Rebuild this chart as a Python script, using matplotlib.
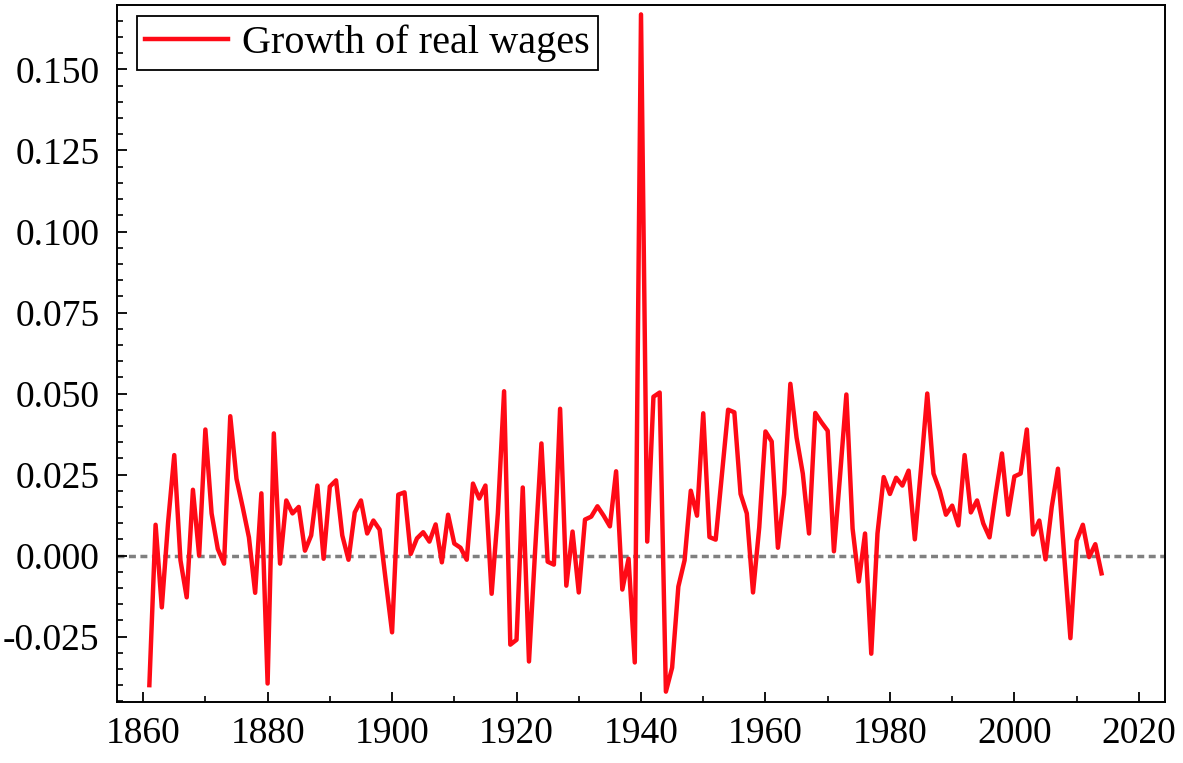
import numpy as np
import matplotlib
matplotlib.use("Agg")
import matplotlib.pyplot as plt
import matplotlib.ticker as mticker

# Annual growth of real wages, 1861-2014
years = list(range(1861, 2015))
growth = [
    -0.040, 0.0095, -0.016, 0.010, 0.031, -0.0015, -0.0129, 0.0203, 0.000, 0.0389,   # 1861-1870
    0.013, 0.002, -0.0025, 0.043, 0.0237, 0.0149, 0.0056, -0.0115, 0.0192, -0.0395,  # 1871-1880
    0.0377, -0.0025, 0.017, 0.013, 0.015, 0.0015, 0.0062, 0.0216, -0.001, 0.0213,    # 1881-1890
    0.0232, 0.0062, -0.0013, 0.0133, 0.017, 0.0068, 0.0108, 0.008, -0.008, -0.0237,  # 1891-1900
    0.0188, 0.0195, 0.0005, 0.0053, 0.0072, 0.0043, 0.0096, -0.0021, 0.0126, 0.0037, # 1901-1910
    0.0024, -0.0013, 0.0222, 0.0176, 0.0216, -0.0118, 0.013, 0.0507, -0.0275, -0.026, # 1911-1920
    0.021, -0.0327, 0.002, 0.0346, -0.0019, -0.0028, 0.0453, -0.0093, 0.0074, -0.0114, # 1921-1930
    0.0111, 0.012, 0.0152, 0.0123, 0.009, 0.026, -0.0105, -0.001, -0.033, 0.167,     # 1931-1940
    0.0043, 0.049, 0.0503, -0.042, -0.0346, -0.0096, -0.0015, 0.020, 0.0123, 0.0439, # 1941-1950
    0.0057, 0.0049, 0.025, 0.045, 0.0442, 0.019, 0.013, -0.0114, 0.0087, 0.0383,     # 1951-1960
    0.0352, 0.0024, 0.019, 0.053, 0.0364, 0.0253, 0.0068, 0.044, 0.0411, 0.0385,     # 1961-1970
    0.0013, 0.025, 0.0497, 0.0083, -0.008, 0.0068, -0.0303, 0.0068, 0.0242, 0.019,   # 1971-1980
    0.024, 0.0216, 0.0262, 0.005, 0.027, 0.050, 0.0253, 0.020, 0.0126, 0.0154,       # 1981-1990
    0.0093, 0.031, 0.0133, 0.017, 0.0099, 0.0056, 0.019, 0.0315, 0.0126, 0.0244,     # 1991-2000
    0.0253, 0.0389, 0.0065, 0.0108, -0.0012, 0.015, 0.0268, 0.000, -0.0255, 0.0046,  # 2001-2010
    0.0095, -0.0005, 0.0035, -0.0055,                                                # 2011-2014
]

plt.rcParams['font.family'] = ['Liberation Serif', 'DejaVu Serif']

fig = plt.figure(figsize=(11.83, 7.63), dpi=100)
# axes box in pixels: x 117..1165, y 5..702
ax = fig.add_axes([117 / 1183, 1 - 702 / 763, 1048 / 1183, 697 / 763])

ax.axhline(0.0, color='#808080', linestyle=(0, (2.0, 1.3)), linewidth=2.5, zorder=1)
ax.plot(years, growth, color='#ff0a16', linewidth=3.2, label='Growth of real wages', zorder=2)

ax.set_xlim(1855.8, 2024.2)
ax.set_ylim(-0.0452, 0.1699)

ax.xaxis.set_major_locator(mticker.MultipleLocator(20))
ax.xaxis.set_minor_locator(mticker.MultipleLocator(10))
ax.yaxis.set_major_locator(mticker.MultipleLocator(0.025))
ax.yaxis.set_minor_locator(mticker.MultipleLocator(0.005))
ax.yaxis.set_major_formatter(mticker.FormatStrFormatter('%.3f'))

ax.tick_params(axis='both', which='major', direction='in', length=7.2, width=1.3,
               labelsize=27, top=False, right=False)
ax.tick_params(axis='both', which='minor', direction='in', length=4.0, width=1.2,
               top=False, right=False)
ax.tick_params(axis='y', which='major', pad=12.5)
ax.tick_params(axis='x', which='major', pad=10.5)

for s in ax.spines.values():
    s.set_linewidth(1.4)
    s.set_color('black')

leg = ax.legend(loc='upper left', fontsize=29, frameon=True, fancybox=False,
                handlelength=2.05, handletextpad=0.35, borderpad=0.2,
                borderaxespad=0.0, bbox_to_anchor=(20 / 1048, 1 - 11 / 697))
leg.get_frame().set_edgecolor('black')
leg.get_frame().set_linewidth(1.3)
leg.get_frame().set_alpha(1.0)

fig.savefig('out.png', dpi=100)
plt.close(fig)
